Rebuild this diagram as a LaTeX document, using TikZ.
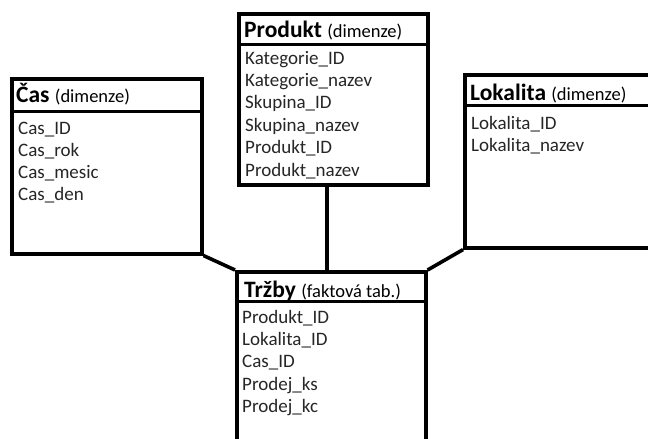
\documentclass[tikz,border=0pt]{standalone}
\usepackage{fontspec}
\setmainfont{Carlito}
\newcommand\dimtag[1]{{\fontsize{18.5}{22}\selectfont\mdseries #1}}
\begin{document}
\begin{tikzpicture}[x=1pt,y=-1pt,
  tbl/.style={draw=black, line width=3.6pt, fill=white, inner sep=0pt, anchor=north west},
  sep/.style={draw=black, line width=3pt},
  conn/.style={draw=black, line width=3.6pt},
  ttl/.style={anchor=base west, inner sep=0pt, font=\fontsize{23.5}{27}\selectfont\bfseries},
  item/.style={anchor=base west, inner sep=0pt, text=black!85, font=\fontsize{19}{22}\selectfont}]
\useasboundingbox (0,0) rectangle (648,439);
\clip (0,0) rectangle (648,439);

% table frames
\node[tbl, minimum width=190pt, minimum height=175pt] (cas) at (10,77) {};
\node[tbl, minimum width=189pt, minimum height=171pt] (produkt) at (237,12) {};
\node[tbl, minimum width=200pt, minimum height=173pt] (lokalita) at (463,73) {};
\node[tbl, minimum width=189pt, minimum height=200pt] (trzby) at (235,270) {};

% header separators
\draw[sep] (cas.west |- 0,111) -- (cas.east |- 0,111);
\draw[sep] (produkt.west |- 0,44) -- (produkt.east |- 0,44);
\draw[sep] (lokalita.west |- 0,105) -- (lokalita.east |- 0,105);
\draw[sep] (trzby.west |- 0,301) -- (trzby.east |- 0,301);

% connectors between dimensions and fact table
\draw[conn] (cas.south east) -- (trzby.north west);
\draw[conn] (lokalita.south west) -- (trzby.north east);
\draw[conn] (327,0 |- produkt.south) -- (327,0 |- trzby.north);

% titles
\node[ttl] (cas-t) at (16,102) {Čas \dimtag{(dimenze)}};
\node[ttl] (produkt-t) at (244,37) {Produkt \dimtag{(dimenze)}};
\node[ttl] (lokalita-t) at (470,100) {Lokalita \dimtag{(dimenze)}};
\node[ttl] (trzby-t) at (244,297) {Tržby \dimtag{(faktová tab.)}};

% attributes
\foreach \t [count=\i from 0] in {Cas\_ID, Cas\_rok, Cas\_mesic, Cas\_den}
  \node[item] (cas-\i) at (18,134+22.2*\i) {\t};
\foreach \t [count=\i from 0] in {Kategorie\_ID, Kategorie\_nazev, Skupina\_ID, Skupina\_nazev, Produkt\_ID, Produkt\_nazev}
  \node[item] (produkt-\i) at (245,64+22.4*\i) {\t};
\foreach \t [count=\i from 0] in {Lokalita\_ID, Lokalita\_nazev}
  \node[item] (lokalita-\i) at (471,129+22.2*\i) {\t};
\foreach \t [count=\i from 0] in {Produkt\_ID, Lokalita\_ID, Cas\_ID, Prodej\_ks, Prodej\_kc}
  \node[item] (trzby-\i) at (242,323+22.4*\i) {\t};
\end{tikzpicture}
\end{document}
